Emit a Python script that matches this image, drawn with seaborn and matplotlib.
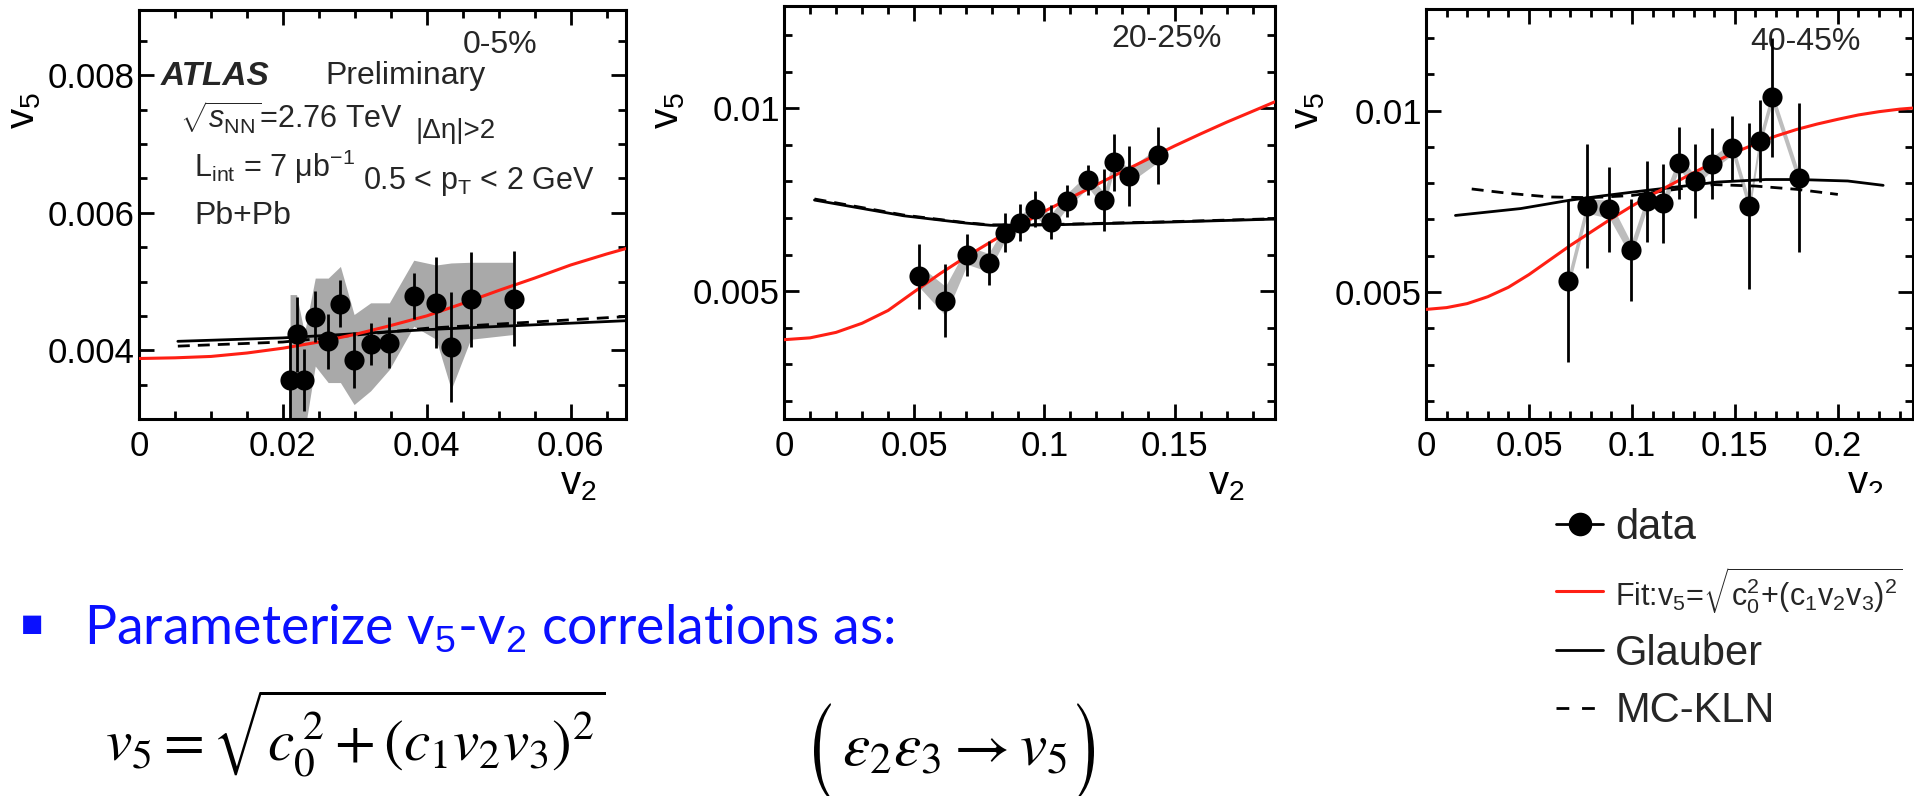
import numpy as np
import pandas as pd
import seaborn as sns
import matplotlib
matplotlib.use("Agg")
import matplotlib.pyplot as plt
from matplotlib.lines import Line2D
from matplotlib.ticker import MultipleLocator, FixedLocator, FixedFormatter
from matplotlib.textpath import TextPath
from matplotlib.patches import PathPatch
from matplotlib.font_manager import FontProperties
from matplotlib.transforms import Affine2D

# ---------------- data ----------------
centralities = ["0-5%", "20-25%", "40-45%"]

# panel 1 : 0-5%
p1_x = [0.0210, 0.0219, 0.0230, 0.0245, 0.0263, 0.0280, 0.0299, 0.0322, 0.0348, 0.0382, 0.0413, 0.0434, 0.0461, 0.0521]
p1_y = [0.00357, 0.00423, 0.00357, 0.00449, 0.00413, 0.00468, 0.00386, 0.00409, 0.00411, 0.00479, 0.00469, 0.00405, 0.00474, 0.00475]
p1_err = [0.00060, 0.00054, 0.00045, 0.00037, 0.00040, 0.00034, 0.00041, 0.00030, 0.00037, 0.00033, 0.00066, 0.00080, 0.00069, 0.00069]
p1_sys_hi = [0.00481, 0.00481, 0.00425, 0.00505, 0.00505, 0.00522, 0.00452, 0.00469, 0.00469, 0.00531, 0.00524, 0.00527, 0.00528, 0.00528]
p1_sys_lo = [0.00280, 0.00300, 0.00280, 0.00377, 0.00353, 0.00353, 0.00321, 0.00341, 0.00372, 0.00435, 0.00416, 0.00343, 0.00416, 0.00423]
p1_fit_x = [0.0, 0.005, 0.01, 0.015, 0.02, 0.025, 0.03, 0.035, 0.04, 0.045, 0.05, 0.055, 0.06, 0.065, 0.0677]
p1_fit_y = [0.00388, 0.00389, 0.00391, 0.00396, 0.00403, 0.00412, 0.00423, 0.00436, 0.00450, 0.00468, 0.00487, 0.00505, 0.00524, 0.00540, 0.00548]
p1_gl_x = [0.0054, 0.02, 0.04, 0.0677]
p1_gl_y = [0.00413, 0.00418, 0.00430, 0.00443]
p1_kln_x = [0.0054, 0.02, 0.04, 0.0677]
p1_kln_y = [0.00406, 0.00412, 0.00432, 0.00449]

# panel 2 : 20-25%
p2_x = [0.0519, 0.0620, 0.0704, 0.0786, 0.0850, 0.0908, 0.0965, 0.1024, 0.1087, 0.1169, 0.1229, 0.1269, 0.1324, 0.1435]
p2_y = [0.00541, 0.00473, 0.00598, 0.00578, 0.00660, 0.00687, 0.00724, 0.00689, 0.00747, 0.00803, 0.00749, 0.00852, 0.00815, 0.00872]
p2_err = [0.00089, 0.00100, 0.00057, 0.00060, 0.00053, 0.00050, 0.00050, 0.00046, 0.00044, 0.00041, 0.00085, 0.00079, 0.00083, 0.00078]
p2_sys = [0.00030, 0.00040, 0.00025, 0.00025, 0.00020, 0.00020, 0.00020, 0.00020, 0.00020, 0.00020, 0.00020, 0.00020, 0.00020, 0.00020]
p2_fit_x = [0.0, 0.01, 0.02, 0.03, 0.04, 0.05, 0.06, 0.07, 0.08, 0.09, 0.10, 0.11, 0.12, 0.13, 0.14, 0.15, 0.16, 0.17, 0.18, 0.1886]
p2_fit_y = [0.00367, 0.00372, 0.00387, 0.00412, 0.00447, 0.00498, 0.00548, 0.00594, 0.00637, 0.00679, 0.00718, 0.00755, 0.00791, 0.00827, 0.00862, 0.00897, 0.00930, 0.00962, 0.00992, 0.01018]
p2_gl_x = [0.0117, 0.046, 0.070, 0.0794, 0.1016, 0.149, 0.1886]
p2_gl_y = [0.00749, 0.00706, 0.00686, 0.00680, 0.00681, 0.00689, 0.00697]
p2_kln_x = [0.0117, 0.046, 0.070, 0.0794, 0.1016, 0.149, 0.1886]
p2_kln_y = [0.00752, 0.00708, 0.00687, 0.00681, 0.00682, 0.00690, 0.00698]

# panel 3 : 40-45%
p3_x = [0.0692, 0.0784, 0.0891, 0.0996, 0.1075, 0.1151, 0.1230, 0.1304, 0.1389, 0.1488, 0.1571, 0.1621, 0.1681, 0.1810]
p3_y = [0.00530, 0.00737, 0.00728, 0.00616, 0.00750, 0.00744, 0.00856, 0.00806, 0.00854, 0.00896, 0.00737, 0.00916, 0.01037, 0.00815]
p3_err = [0.00224, 0.00170, 0.00117, 0.00140, 0.00112, 0.00110, 0.00100, 0.00103, 0.00098, 0.00090, 0.00228, 0.00112, 0.00164, 0.00206]
p3_sys = [0.00020, 0.00020, 0.00025, 0.00020, 0.00018, 0.00018, 0.00018, 0.00018, 0.00018, 0.00018, 0.00018, 0.00018, 0.00018, 0.00018]
p3_fit_x = [0.0, 0.01, 0.02, 0.03, 0.04, 0.05, 0.06, 0.07, 0.08, 0.09, 0.10, 0.11, 0.12, 0.13, 0.14, 0.15, 0.16, 0.17, 0.18, 0.19, 0.20, 0.21, 0.22, 0.23, 0.2365]
p3_fit_y = [0.00452, 0.00457, 0.00468, 0.00487, 0.00513, 0.00548, 0.00588, 0.00628, 0.00665, 0.00702, 0.00737, 0.00769, 0.00799, 0.00829, 0.00858, 0.00885, 0.00908, 0.00930, 0.00948, 0.00963, 0.00976, 0.00988, 0.00997, 0.01004, 0.01007]
p3_gl_x = [0.0143, 0.046, 0.0698, 0.0857, 0.1056, 0.1254, 0.1413, 0.165, 0.181, 0.2048, 0.222]
p3_gl_y = [0.00711, 0.00730, 0.00753, 0.00765, 0.00779, 0.00792, 0.00803, 0.00810, 0.00810, 0.00806, 0.00794]
p3_kln_x = [0.0222, 0.04, 0.06, 0.08, 0.10, 0.12, 0.14, 0.16, 0.18, 0.20]
p3_kln_y = [0.00784, 0.00772, 0.00762, 0.00760, 0.00766, 0.00782, 0.00796, 0.00792, 0.00783, 0.00769]

# axis ranges / ticks
p1_xlim = (0.0, 0.0677); p1_ylim = (0.0030, 0.00895)
p2_xlim = (0.0, 0.1886); p2_ylim = (0.0015, 0.0128)
p3_xlim = (0.0, 0.2365); p3_ylim = (0.0015, 0.0128)
p1_xticks = [0.0, 0.02, 0.04, 0.06]; p1_xticklabels = ["0", "0.02", "0.04", "0.06"]
p1_yticks = [0.004, 0.006, 0.008]; p1_yticklabels = ["0.004", "0.006", "0.008"]
p2_xticks = [0.0, 0.05, 0.10, 0.15]; p2_xticklabels = ["0", "0.05", "0.1", "0.15"]
p3_xticks = [0.0, 0.05, 0.10, 0.15, 0.20]; p3_xticklabels = ["0", "0.05", "0.1", "0.15", "0.2"]
p23_yticks = [0.005, 0.010]; p23_yticklabels = ["0.005", "0.01"]

legend_labels = ["data", r"Fit:v$_5$=$\sqrt{\mathrm{c}_0^2\!+\!(\mathrm{c}_1\mathrm{v}_2\mathrm{v}_3)^2}$", "Glauber", "MC-KLN"]

# ---------------- style ----------------
sns.set_theme(style="ticks")
plt.rcParams["font.family"] = ["Liberation Sans", "DejaVu Sans"]
plt.rcParams["mathtext.fontset"] = "custom"
plt.rcParams["mathtext.rm"] = "Liberation Sans"
plt.rcParams["mathtext.it"] = "Liberation Sans:italic"
plt.rcParams["mathtext.bf"] = "Liberation Sans:bold"
plt.rcParams["mathtext.sf"] = "Liberation Sans"

W, H = 1915, 796
fig = plt.figure(figsize=(W / 100, H / 100), dpi=100)
fig.patch.set_facecolor("white")


def fx(px):
    return px / W


def fy(py):
    return 1 - py / H


def add_ax(l, t, r, b):
    return fig.add_axes([l / W, 1 - b / H, (r - l) / W, (b - t) / H])


RED = "#ff1f14"


def draw_panel(ax, x, y, err, lo, hi, band_color, fit_x, fit_y, gl_x, gl_y, kln_x, kln_y,
               xlim, ylim, xticks, xticklabels, xminor, yticks, yticklabels, yminor):
    ax.set_facecolor("white")
    ax.fill_between(x, lo, hi, color=band_color, lw=0, zorder=1)
    sns.lineplot(x=gl_x, y=gl_y, ax=ax, color="black", lw=2.0, estimator=None, sort=False, zorder=2)
    sns.lineplot(x=kln_x, y=kln_y, ax=ax, color="black", lw=2.0, estimator=None, sort=False,
                 linestyle=(0, (4.3, 2.9)), zorder=2)
    sns.lineplot(x=fit_x, y=fit_y, ax=ax, color=RED, lw=2.2, estimator=None, sort=False, zorder=3)
    ax.errorbar(x, y, yerr=err, fmt="none", ecolor="black", elinewidth=2.0, capsize=0, zorder=4)
    sns.scatterplot(x=x, y=y, ax=ax, color="black", s=210, linewidth=0, zorder=5)
    ax.set_xlim(*xlim)
    ax.set_ylim(*ylim)
    ax.xaxis.set_major_locator(FixedLocator(xticks))
    ax.xaxis.set_major_formatter(FixedFormatter(xticklabels))
    ax.yaxis.set_major_locator(FixedLocator(yticks))
    ax.yaxis.set_major_formatter(FixedFormatter(yticklabels))
    ax.xaxis.set_minor_locator(MultipleLocator(xminor))
    ax.yaxis.set_minor_locator(MultipleLocator(yminor))
    ax.tick_params(which="both", direction="in", top=True, right=True, width=2.0, color="black",
                   labelsize=25, labelcolor="black")
    ax.tick_params(which="major", length=11)
    ax.tick_params(which="minor", length=5.5)
    ax.tick_params(axis="y", which="major", pad=3)
    ax.tick_params(axis="x", which="major", pad=8)
    for s in ax.spines.values():
        s.set_visible(True)
        s.set_linewidth(2.2)
        s.set_color("black")
    ax.set_xlabel("")
    ax.set_ylabel("")
    ax.grid(False)


ax1 = add_ax(139, 10, 626, 419)
ax2 = add_ax(784, 6, 1275, 419)
ax3 = add_ax(1426, 9, 1913, 419)

draw_panel(ax1, p1_x, p1_y, p1_err, p1_sys_lo, p1_sys_hi, "#a9a9a9",
           p1_fit_x, p1_fit_y, p1_gl_x, p1_gl_y, p1_kln_x, p1_kln_y,
           p1_xlim, p1_ylim, p1_xticks, p1_xticklabels, 0.005, p1_yticks, p1_yticklabels, 0.0005)
p2_lo = [a - b for a, b in zip(p2_y, p2_sys)]
p2_hi = [a + b for a, b in zip(p2_y, p2_sys)]
draw_panel(ax2, p2_x, p2_y, p2_err, p2_lo, p2_hi, "#b9b9b9",
           p2_fit_x, p2_fit_y, p2_gl_x, p2_gl_y, p2_kln_x, p2_kln_y,
           p2_xlim, p2_ylim, p2_xticks, p2_xticklabels, 0.01, p23_yticks, p23_yticklabels, 0.001)
p3_lo = [a - b for a, b in zip(p3_y, p3_sys)]
p3_hi = [a + b for a, b in zip(p3_y, p3_sys)]
draw_panel(ax3, p3_x, p3_y, p3_err, p3_lo, p3_hi, "#bdbdbd",
           p3_fit_x, p3_fit_y, p3_gl_x, p3_gl_y, p3_kln_x, p3_kln_y,
           p3_xlim, p3_ylim, p3_xticks, p3_xticklabels, 0.01, p23_yticks, p23_yticklabels, 0.001)

# axis titles (ROOT style: at the ends)
for ax, xr, yc in [(ax1, 597, 24), (ax2, 1245, 668), (ax3, 1884, 1308)]:
    ax.text(fx(xr), fy(494), r"v$_2$", transform=fig.transFigure, ha="right", va="baseline",
            fontsize=29, color="black", clip_on=False)
    ax.text(fx(yc), fy(92), r"v$_5$", transform=fig.transFigure, ha="center", va="top",
            rotation=90, fontsize=29, color="black", clip_on=False)

# centrality labels
ax1.text(fx(463), fy(30), centralities[0], transform=fig.transFigure, ha="left", va="top", fontsize=23)
ax2.text(fx(1111), fy(24), centralities[1], transform=fig.transFigure, ha="left", va="top", fontsize=23)
ax3.text(fx(1750), fy(27), centralities[2], transform=fig.transFigure, ha="left", va="top", fontsize=23)

# ATLAS annotations in panel 1
ax1.text(fx(161), fy(61), "ATLAS", transform=fig.transFigure, ha="left", va="top", fontsize=24,
         fontweight="bold", fontstyle="italic")
ax1.text(fx(325), fy(61), "Preliminary", transform=fig.transFigure, ha="left", va="top", fontsize=23)
ax1.text(fx(180), fy(100), r"$\sqrt{s_{\mathrm{NN}}}$=2.76 TeV", transform=fig.transFigure,
         ha="left", va="top", fontsize=22)
ax1.text(fx(416), fy(118), "|Δη|>2", transform=fig.transFigure, ha="left", va="top", fontsize=20)
ax1.text(fx(194), fy(148), r"L$_{\mathrm{int}}$ = 7 μb$^{\mathrm{-1}}$", transform=fig.transFigure,
         ha="left", va="top", fontsize=22)
ax1.text(fx(363), fy(165), r"0.5 < p$_{\mathrm{T}}$ < 2 GeV", transform=fig.transFigure,
         ha="left", va="top", fontsize=22)
ax1.text(fx(194), fy(201), "Pb+Pb", transform=fig.transFigure, ha="left", va="top", fontsize=23)

# legend area (white panel, covers the lower part of the third v2 label)
lax = fig.add_axes([1500 / W, 0, 415 / W, (796 - 493) / H])
lax.set_facecolor("white")
lax.set_xticks([])
lax.set_yticks([])
for s in lax.spines.values():
    s.set_visible(False)
handles = [
    Line2D([], [], color="black", lw=2.0, marker="o", markersize=17, markeredgewidth=0),
    Line2D([], [], color=RED, lw=2.2),
    Line2D([], [], color="black", lw=2.0),
    Line2D([], [], color="black", lw=2.0, linestyle=(0, (4.6, 4.6))),
]
leg = lax.legend(handles, legend_labels, loc="upper left", bbox_to_anchor=(fx(1556), fy(508)),
                 bbox_transform=fig.transFigure, frameon=False, fontsize=30, handlelength=1.13,
                 handletextpad=0.29, labelspacing=0.42, borderaxespad=0, borderpad=0)
leg.get_texts()[1].set_fontsize(22)

# bottom slide text
BLUE = "#0a10ff"
fig.text(fx(32), fy(624), "■", ha="center", va="center", fontsize=17, color=BLUE,
         family=["DejaVu Sans"])
t_bul = fig.text(fx(84), fy(644), r"Parameterize v$_5$-v$_2$ correlations as:", ha="left",
                 va="baseline", fontsize=36, color=BLUE,
                 family=["Liberation Sans Narrow", "Lato", "DejaVu Sans"])
t_f1 = fig.text(fx(105), fy(761), r"$v_5 = \sqrt{c_0^{\,2} + (c_1 v_2 v_3)^2}$", ha="left",
                va="baseline", fontsize=38, color="black", math_fontfamily="stix")
t_f2 = fig.text(fx(842), fy(765), r"$\varepsilon_2\varepsilon_3 \rightarrow v_5$",
                ha="left", va="baseline", fontsize=38, color="black", math_fontfamily="stix")

# fit widths of the slide texts to the reference
fig.canvas.draw()
r = fig.canvas.get_renderer()
for t, target in [(t_bul, 895 - 84), (t_f1, 607 - 105), (t_f2, 1068 - 842)]:
    bb = t.get_window_extent(renderer=r)
    t.set_fontsize(t.get_fontsize() * target / bb.width)

# tall parentheses around the second formula
stix = FontProperties(family="STIXGeneral")
for ch, (x0, x1, y0, y1) in [("(", (814, 831, 703, 800)), (")", (1077, 1094, 703, 800))]:
    p = TextPath((0, 0), ch, size=100, prop=stix)
    e = p.get_extents()
    tr = (Affine2D().translate(-e.x0, -e.y0)
          .scale((x1 - x0) / e.width, (y1 - y0) / e.height)
          .translate(x0, H - y1))
    fig.add_artist(PathPatch(p, transform=tr, facecolor="black", edgecolor="none"))

fig.savefig("out.png", dpi=100, facecolor="white")
